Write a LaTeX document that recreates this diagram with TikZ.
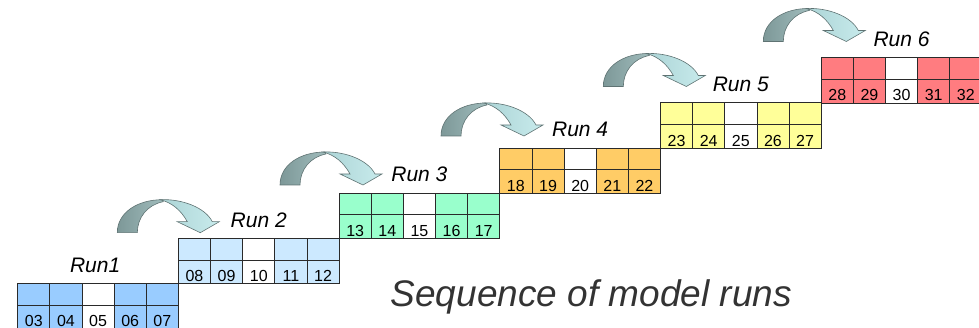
\documentclass[tikz,border=0pt]{standalone}
\usepackage{fontspec}
\setmainfont{Liberation Sans}

% block fills
\definecolor{runA}{HTML}{99CCFF}
\definecolor{runB}{HTML}{CCE9FF}
\definecolor{runC}{HTML}{99FFCC}
\definecolor{runD}{HTML}{FFCC66}
\definecolor{runE}{HTML}{FFFF99}
\definecolor{runF}{HTML}{FF7C80}
\definecolor{cellline}{HTML}{2A2A2A}
\definecolor{seqgray}{HTML}{333333}
% curved arrow shading
\definecolor{arrowdarkA}{RGB}{125,152,152}
\definecolor{arrowdarkB}{RGB}{160,188,188}
\definecolor{arrowlightA}{RGB}{172,212,214}
\definecolor{arrowlightB}{RGB}{200,235,236}
\definecolor{arrowline}{RGB}{95,115,115}

\tikzset{
  cell/.style={draw=cellline, line width=0.8pt, anchor=north west,
    inner sep=0pt, minimum width=32.14pt},
  num/.style={anchor=base, inner sep=0pt, font=\fontsize{16}{16}\selectfont},
  runlbl/.style={anchor=base west, inner sep=0pt, font=\fontsize{21}{21}\selectfont\itshape},
  curvearrow/.pic={
    % back (dark) half of the ribbon
    \path[draw=arrowline, line width=0.6pt, left color=arrowdarkA, right color=arrowdarkB]
      (0,0) .. controls (0,-20) and (20,-33) .. (45,-33) -- (46,-31)
      .. controls (30,-28) and (20,-15) .. (20,0) -- cycle;
    % front (light) half with the head
    \path[draw=arrowline, line width=0.6pt, left color=arrowlightA, right color=arrowlightB]
      (43,-33) .. controls (65,-34) and (88,-25) .. (95,-11) -- (102,-11) -- (83,0)
      -- (60,-11) -- (70,-11) .. controls (64,-22) and (55,-30) .. (43,-33) -- cycle;
  }
}

\begin{document}
\begin{tikzpicture}[x=1pt,y=-1pt]
\useasboundingbox (0,0) rectangle (979,328);
\clip (0,0) rectangle (979,328);

% staircase of run blocks
\foreach \r/\col/\lbl in {0/runA/Run1, 1/runB/Run 2, 2/runC/Run 3, 3/runD/Run 4, 4/runE/Run 5, 5/runF/Run 6}{
  \pgfmathsetmacro\bx{17.3+160.7*\r}
  \pgfmathsetmacro\by{283.3-45.2*\r}
  \foreach \c in {0,...,4}{
    \pgfmathtruncatemacro\n{3+5*\r+\c}
    \ifnum\c=2 \def\cc{white}\else\def\cc{\col}\fi
    \node[cell, fill=\cc, minimum height=21.5pt] (t\r\c) at (\bx+32.14*\c, \by) {};
    \node[cell, fill=\cc, minimum height=23.8pt] (b\r\c) at (\bx+32.14*\c, \by+21.5) {};
    \node[num] (n\r\c) at ([yshift=2.5pt]b\r\c.south) {\ifnum\n<10 0\fi\n};
  }
  \node[runlbl] (l\r) at (\bx+52.5, \by-11) {\lbl};
}

% curved arrows between consecutive runs
\pic at (117.3,232.7) {curvearrow};
\pic at (280,185) {curvearrow};
\pic at (441,136) {curvearrow};
\pic at (603.3,86.5) {curvearrow};
\pic at (763.3,41.5) {curvearrow};

\node[anchor=base west, inner sep=0pt, text=seqgray,
      font=\fontsize{37}{37}\selectfont\itshape] (title) at (390.5,306.7) {Sequence of model runs};
\end{tikzpicture}
\end{document}
